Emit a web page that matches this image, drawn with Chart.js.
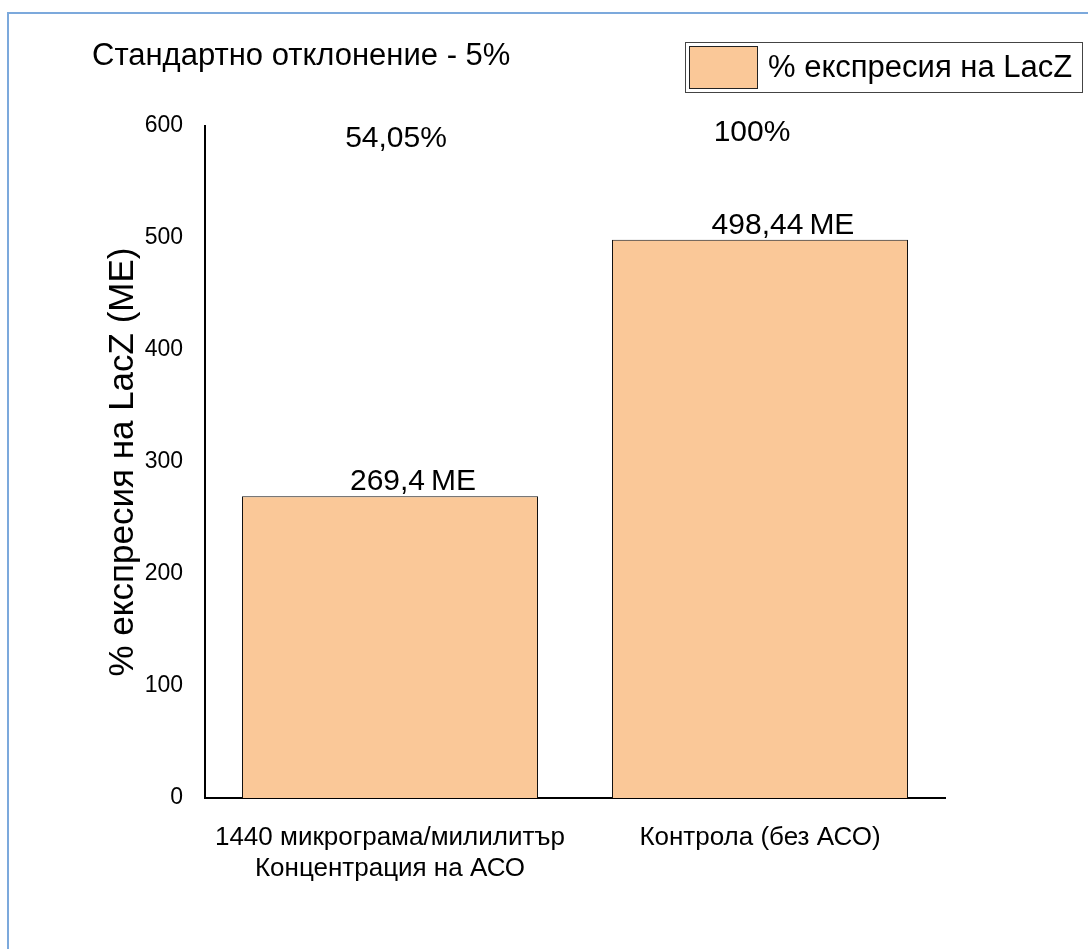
<!DOCTYPE html>
<html>
<head>
<meta charset="utf-8">
<script src="https://cdn.jsdelivr.net/npm/chart.js@4.4.1/dist/chart.umd.min.js"></script>
<style>
    body { margin: 0; background: #fff; }
    #frame { position: absolute; left: 7px; top: 12px; width: 1200px; height: 1000px; border: 2px solid #7ca9dc; }
    #lacz { position: absolute; left: 0; top: 0; }
</style>
</head>
<body>
<div id="frame"></div>
<canvas id="lacz" width="1088" height="949"></canvas>
<script>
var categories = [["1440 микрограма/милилитър", "Концентрация на АСО"], "Контрола (без АСО)"];
var values = [269.4, 498.44];
var pctLabels = ["54,05%", "100%"];
var seriesName = "% експресия на LacZ";
var chartTitle = "Стандартно отклонение - 5%";
var yTitle = "% експресия на LacZ (ME)";

var font = "'Liberation Sans', Arial, sans-serif";

// title, legend box and text labels above the bars
var extras = {
    id: 'extras',
    afterDraw: function(chart) {
        var ctx = chart.ctx;
        var x = chart.scales.x, y = chart.scales.y;
        var ds = chart.data.datasets[0];
        ctx.save();
        ctx.fillStyle = '#000';
        ctx.textBaseline = 'middle';

        ctx.font = "31px " + font;
        ctx.textAlign = 'left';
        ctx.fillText(chartTitle, 92, 56);

        // legend
        ctx.strokeStyle = '#444';
        ctx.lineWidth = 1;
        ctx.strokeRect(685.5, 42.5, 397, 50);
        ctx.fillStyle = ds.backgroundColor;
        ctx.fillRect(689, 46, 68, 43);
        ctx.strokeStyle = '#222';
        ctx.strokeRect(689.5, 46.5, 68, 42);
        ctx.fillStyle = '#000';
        ctx.font = "31px " + font;
        ctx.fillText(ds.label, 768, 68);

        ctx.textAlign = 'center';
        ctx.font = "30px " + font;
        for (var i = 0; i < values.length; i++) {
            var cx = x.getPixelForValue(i);
            ctx.fillText(pctLabels[i], cx + (i === 0 ? 6 : -8), i === 0 ? 139 : 133);
            ctx.textBaseline = 'alphabetic';
            ctx.fillText(String(values[i]).replace('.', ',') + '\u2009ME', cx + 23, y.getPixelForValue(values[i]) - 6);
            ctx.textBaseline = 'middle';
        }
        ctx.restore();
    }
};

new Chart(document.getElementById('lacz'), {
    type: 'bar',
    data: {
        labels: categories,
        datasets: [{
            label: seriesName,
            data: values,
            backgroundColor: '#fac898',
            borderColor: '#111',
            borderWidth: 1,
            categoryPercentage: 1,
            barPercentage: 0.8
        }]
    },
    options: {
        responsive: false,
        animation: false,
        layout: { padding: { left: 0, right: 143, top: 126, bottom: 0 } },
        plugins: {
            legend: { display: false },
            tooltip: { enabled: false }
        },
        scales: {
            x: {
                grid: { display: false, drawTicks: false },
                border: { display: true, color: '#000', width: 2 },
                ticks: {
                    color: '#000',
                    padding: 24,
                    maxRotation: 0,
                    font: { family: font, size: 26, lineHeight: 1.2 }
                },
                afterFit: function(scale) { scale.height = 151; }
            },
            y: {
                min: 0,
                max: 600,
                grid: { display: false, drawTicks: false },
                border: { display: true, color: '#000', width: 2 },
                ticks: {
                    stepSize: 100,
                    color: '#000',
                    padding: 22,
                    font: { family: font, size: 23 }
                },
                title: {
                    display: true,
                    text: yTitle,
                    color: '#000',
                    padding: { top: 102, bottom: 0 },
                    font: { family: font, size: 35, lineHeight: 1.2 }
                },
                afterFit: function(scale) { scale.width = 205; }
            }
        }
    },
    plugins: [extras]
});
</script>
</body>
</html>
